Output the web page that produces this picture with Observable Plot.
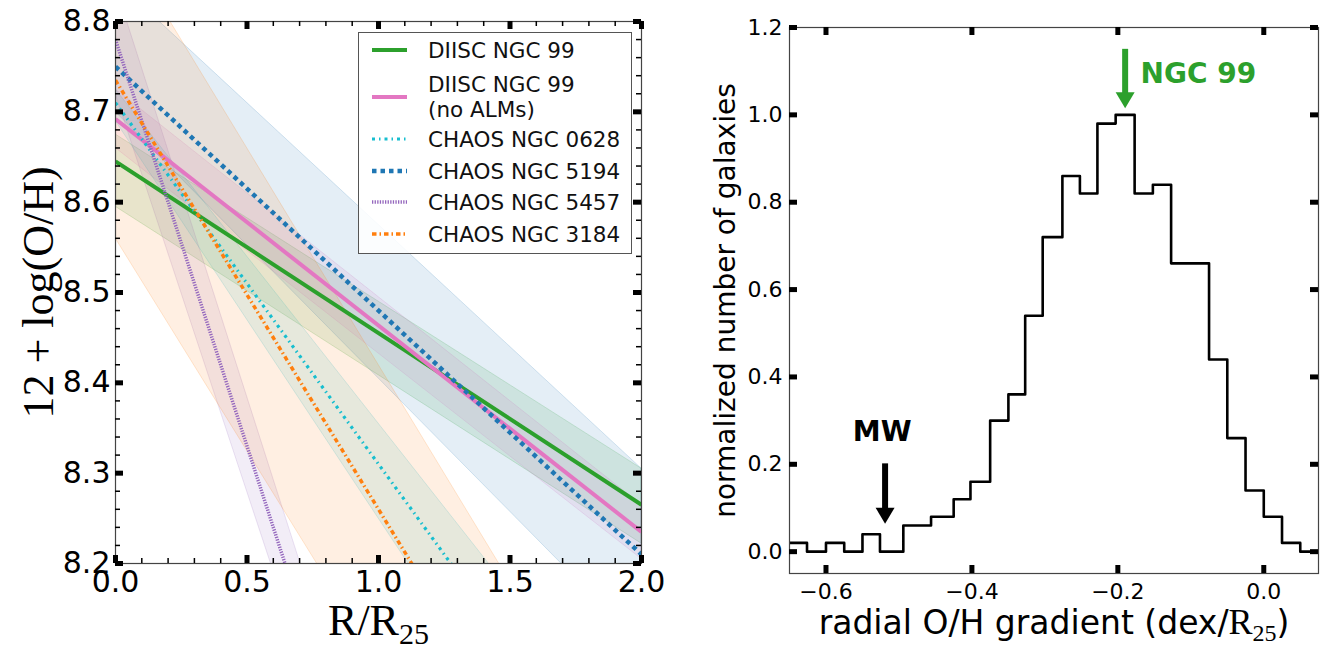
<!DOCTYPE html>
<html>
<head>
<meta charset="utf-8">
<script src="https://cdn.jsdelivr.net/npm/d3@7"></script>
<script src="https://cdn.jsdelivr.net/npm/@observablehq/plot@0.6"></script>
<style>
  html, body { margin: 0; padding: 0; background: #ffffff; }
  #wrap { position: relative; width: 1338px; height: 650px; overflow: hidden; font-family: "DejaVu Sans", sans-serif; }
  #left { position: absolute; left: 0; top: 0; }
  #right { position: absolute; left: 670px; top: 0; }
  #legend { position: absolute; left: 358px; top: 32px; width: 274px; height: 222px; box-sizing: border-box;
            border: 1.3px solid #555; background: rgba(255,255,255,0.85); }
  #legend .row { position: absolute; left: 0; width: 100%; }
  #legend .lbl { position: absolute; left: 69px; font-size: 21.5px; line-height: 25px; color: #111; white-space: pre; }
  #legend svg { position: absolute; left: 13px; }
</style>
</head>
<body>
<div id="wrap">
  <div id="left"></div>
  <div id="right"></div>
  <div id="legend"></div>
</div>
<script>
// ---------------- LEFT PANEL DATA ----------------
const seriesNames = ["DIISC NGC 99", "DIISC NGC 99\n(no ALMs)", "CHAOS NGC 0628", "CHAOS NGC 5194", "CHAOS NGC 5457", "CHAOS NGC 3184"];
const radiusEnds = [0, 2];
const ohAtInner = [8.645, 8.692, 8.710, 8.750, 8.780, 8.735];
const ohAtOuter = [8.265, 8.235, 7.910, 8.210, 6.980, 7.785];
const bandUpperInner = [8.675, 8.725, 8.725, 8.845, 8.840, 8.900];
const bandUpperOuter = [8.305, 8.265, 7.985, 8.305, 7.020, 7.940];
const bandLowerInner = [8.595, 8.660, 8.690, 8.700, 8.720, 8.560];
const bandLowerOuter = [8.222, 8.205, 7.810, 8.110, 6.960, 7.620];

const xMajorLeft = [0, 0.5, 1.0, 1.5, 2.0];
const xMinorLeft = [0.1, 0.2, 0.3, 0.4, 0.6, 0.7, 0.8, 0.9, 1.1, 1.2, 1.3, 1.4, 1.6, 1.7, 1.8, 1.9];
const yMajorLeft = [8.2, 8.3, 8.4, 8.5, 8.6, 8.7, 8.8];
const yMinorLeft = [8.22, 8.24, 8.26, 8.28, 8.32, 8.34, 8.36, 8.38, 8.42, 8.44, 8.46, 8.48,
                    8.52, 8.54, 8.56, 8.58, 8.62, 8.64, 8.66, 8.68, 8.72, 8.74, 8.76, 8.78];
const leftXLabel = "R/R25";
const leftYLabel = "12 + log(O/H)";

// ---------------- RIGHT PANEL DATA ----------------
const binEdges = [-0.650, -0.626, -0.600, -0.575, -0.550, -0.526, -0.494, -0.456, -0.425, -0.402,
                  -0.375, -0.350, -0.327, -0.303, -0.276, -0.252, -0.228, -0.203, -0.177, -0.152,
                  -0.127, -0.075, -0.050, -0.025, 0.000, 0.025, 0.050, 0.064];
const binHeights = [0.02, 0.00, 0.02, 0.00, 0.04, 0.00, 0.06, 0.08, 0.12, 0.16,
                    0.30, 0.36, 0.54, 0.72, 0.86, 0.82, 0.98, 1.00, 0.82, 0.84,
                    0.66, 0.44, 0.26, 0.14, 0.08, 0.02, 0.00];
const xTicksRight = [-0.6, -0.4, -0.2, 0.0];
const yTicksRight = [0.0, 0.2, 0.4, 0.6, 0.8, 1.0, 1.2];
const markerNames = ["MW", "NGC 99"];
const markerGradient = [-0.519, -0.190];
const markerArrowTop = [0.201, 1.150];
const markerArrowTip = [0.064, 1.015];
const markerLabelX = [-0.523, -0.169];
const markerLabelY = [0.274, 1.093];
const rightXLabel = "radial O/H gradient (dex/R25)";
const rightYLabel = "normalized number of galaxies";

// ---------------- STYLES ----------------
const seriesColors = ["#2ca02c", "#e377c2", "#17becf", "#1f77b4", "#9467bd", "#ff7f0e"];
const seriesDash = [null, null, "3,4,1.5,4", "4.5,4", "1.3,1.3", "4.5,3,1.5,3"];
const seriesWidth = [4, 4, 3.2, 4.5, 3.5, 3.5];
const markerColors = ["#000000", "#2ca02c"];
const markerAnchors = ["middle", "start"];

const fmt1 = d3.format(".1f");

// ---------------- LEFT PLOT ----------------
const LW = 670, LH = 650, LML = 115, LMR = 29, LMT = 21, LMB = 87;
const LFW = LW - LML - LMR, LFH = LH - LMT - LMB;

const bandMarks = seriesNames.map((name, i) => {
  const rows = radiusEnds.map((r, j) => ({r, lo: j ? bandLowerOuter[i] : bandLowerInner[i], hi: j ? bandUpperOuter[i] : bandUpperInner[i]}));
  return Plot.areaY(rows, {x: "r", y1: "lo", y2: "hi", fill: seriesColors[i], fillOpacity: 0.12,
    stroke: seriesColors[i], strokeOpacity: 0.18, strokeWidth: 1, clip: true});
});
const lineMarks = seriesNames.map((name, i) => {
  const rows = radiusEnds.map((r, j) => ({r, oh: j ? ohAtOuter[i] : ohAtInner[i]}));
  return Plot.line(rows, {x: "r", y: "oh", stroke: seriesColors[i], strokeWidth: seriesWidth[i],
    strokeDasharray: seriesDash[i] || undefined, strokeLinecap: "butt", clip: true});
});

const leftPlot = Plot.plot({
  width: LW, height: LH, marginLeft: LML, marginRight: LMR, marginTop: LMT, marginBottom: LMB,
  x: {domain: [0, 2]},
  y: {domain: [8.2, 8.8]},
  style: {fontFamily: "DejaVu Sans", background: "transparent", overflow: "visible", color: "black"},
  marks: [
    ...bandMarks,
    ...lineMarks,
    Plot.frame({stroke: "#444", strokeWidth: 1.2}),
    // inward ticks
    Plot.ruleX(xMajorLeft, {insetTop: LFH - 8, stroke: "black", strokeWidth: 5}),
    Plot.ruleX(xMajorLeft, {insetBottom: LFH - 8, stroke: "black", strokeWidth: 5}),
    Plot.ruleX(xMinorLeft, {insetTop: LFH - 5, stroke: "black", strokeWidth: 1.5}),
    Plot.ruleX(xMinorLeft, {insetBottom: LFH - 5, stroke: "black", strokeWidth: 1.5}),
    Plot.ruleY(yMajorLeft, {insetRight: LFW - 8, stroke: "black", strokeWidth: 5}),
    Plot.ruleY(yMajorLeft, {insetLeft: LFW - 8, stroke: "black", strokeWidth: 5}),
    Plot.ruleY(yMinorLeft, {insetRight: LFW - 5, stroke: "black", strokeWidth: 1.5}),
    Plot.ruleY(yMinorLeft, {insetLeft: LFW - 5, stroke: "black", strokeWidth: 1.5}),
    Plot.axisX({ticks: xMajorLeft, tickSize: 0, tickPadding: 7, fontSize: 30, tickFormat: fmt1, label: null}),
    Plot.axisY({ticks: yMajorLeft, tickSize: 0, tickPadding: 5, fontSize: 30, tickFormat: fmt1, label: null}),
    Plot.text([leftYLabel], {text: d => d, frameAnchor: "left", dx: -77, rotate: -90, textAnchor: "middle", lineAnchor: "middle", fontSize: 44, fontFamily: "Liberation Serif"}),
    Plot.text([leftXLabel], {text: d => d, frameAnchor: "bottom", dy: 57, textAnchor: "middle", lineAnchor: "middle", fontSize: 44, fontFamily: "Liberation Serif"})
  ]
});
document.getElementById("left").appendChild(leftPlot);

// ---------------- RIGHT PLOT ----------------
const RW = 668, RH = 650, RML = 119, RMR = 20, RMT = 27, RMB = 77;
const RFW = RW - RML - RMR, RFH = RH - RMT - RMB;

const stepRows = binHeights.map((h, i) => ({g: binEdges[i], n: h}))
  .concat([{g: binEdges[binEdges.length - 1], n: binHeights[binHeights.length - 1]}]);

const arrowHead = {
  draw(ctx) { ctx.moveTo(0, 0); ctx.lineTo(-9.5, -16); ctx.lineTo(9.5, -16); ctx.closePath(); }
};

const markerMarks = markerNames.flatMap((name, i) => [
  Plot.ruleX([{g: markerGradient[i], t: markerArrowTop[i], b: markerArrowTip[i]}],
    {x: "g", y1: "t", y2: "b", stroke: markerColors[i], strokeWidth: 6, insetBottom: 12}),
  Plot.dot([{g: markerGradient[i], b: markerArrowTip[i]}],
    {x: "g", y: "b", symbol: arrowHead, fill: markerColors[i], stroke: "none"}),
  Plot.text([{g: markerLabelX[i], v: markerLabelY[i], name}],
    {x: "g", y: "v", text: "name", fill: markerColors[i], fontSize: 28, fontWeight: "bold", textAnchor: markerAnchors[i]})
]);

const rightPlot = Plot.plot({
  width: RW, height: RH, marginLeft: RML, marginRight: RMR, marginTop: RMT, marginBottom: RMB,
  x: {domain: [-0.65, 0.075]},
  y: {domain: [-0.05, 1.2]},
  style: {fontFamily: "DejaVu Sans", background: "transparent", overflow: "visible", color: "black"},
  marks: [
    Plot.line(stepRows, {x: "g", y: "n", curve: "step-after", stroke: "black", strokeWidth: 2.6, clip: true}),
    ...markerMarks,
    Plot.frame({stroke: "#444", strokeWidth: 1.2}),
    Plot.ruleX(xTicksRight, {insetTop: RFH - 8, stroke: "black", strokeWidth: 5}),
    Plot.ruleX(xTicksRight, {insetBottom: RFH - 8, stroke: "black", strokeWidth: 5}),
    Plot.ruleY(yTicksRight, {insetRight: RFW - 8, stroke: "black", strokeWidth: 5}),
    Plot.ruleY(yTicksRight, {insetLeft: RFW - 8, stroke: "black", strokeWidth: 5}),
    Plot.axisX({ticks: xTicksRight, tickSize: 0, tickPadding: 10, fontSize: 22, tickFormat: fmt1, label: null}),
    Plot.axisY({ticks: yTicksRight, tickSize: 0, tickPadding: 7, fontSize: 22, tickFormat: fmt1, label: null}),
    Plot.text([rightYLabel], {text: d => d, frameAnchor: "left", dx: -63, rotate: -90, textAnchor: "middle", lineAnchor: "middle", fontSize: 28}),
    Plot.text([rightXLabel], {text: d => d, frameAnchor: "bottom", dy: 50, textAnchor: "middle", lineAnchor: "middle", fontSize: 33})
  ]
});
document.getElementById("right").appendChild(rightPlot);

// ---------------- subscripts (R_25) ----------------
function rebuildText(svg, full, parts) {
  d3.select(svg).selectAll("text").filter(function () { return this.textContent === full; }).each(function () {
    const t = d3.select(this);
    t.text(null);
    parts.forEach(p => {
      const ts = t.append("tspan").text(p.text);
      if (p.font) ts.attr("font-family", p.font);
      if (p.size) ts.attr("font-size", p.size);
      if (p.dy) ts.attr("dy", p.dy);
    });
  });
}
rebuildText(leftPlot, leftXLabel, [
  {text: "R/R"},
  {text: "25", size: 30, dy: 9}
]);
rebuildText(rightPlot, rightXLabel, [
  {text: "radial O/H gradient (dex/"},
  {text: "R", font: "Liberation Serif", size: 36},
  {text: "25", font: "Liberation Serif", size: 24, dy: 7},
  {text: ")", dy: -7}
]);

// ---------------- legend ----------------
const legendEl = document.getElementById("legend");
const legendHandleY = [17, 64, 106, 138, 169, 201];
seriesNames.forEach((name, i) => {
  const lines = name.split("\n").length;
  const row = document.createElement("div");
  row.className = "row";
  const s = d3.create("svg").attr("width", 38).attr("height", 12)
    .style("top", (legendHandleY[i] - 6) + "px");
  s.append("line").attr("x1", 0).attr("x2", 35).attr("y1", 6).attr("y2", 6)
    .attr("stroke", seriesColors[i]).attr("stroke-width", seriesWidth[i])
    .attr("stroke-dasharray", seriesDash[i]);
  row.appendChild(s.node());
  const lbl = document.createElement("div");
  lbl.className = "lbl";
  lbl.textContent = name;
  lbl.style.top = (legendHandleY[i] - 12.5 * lines) + "px";
  row.appendChild(lbl);
  legendEl.appendChild(row);
});
</script>
</body>
</html>
